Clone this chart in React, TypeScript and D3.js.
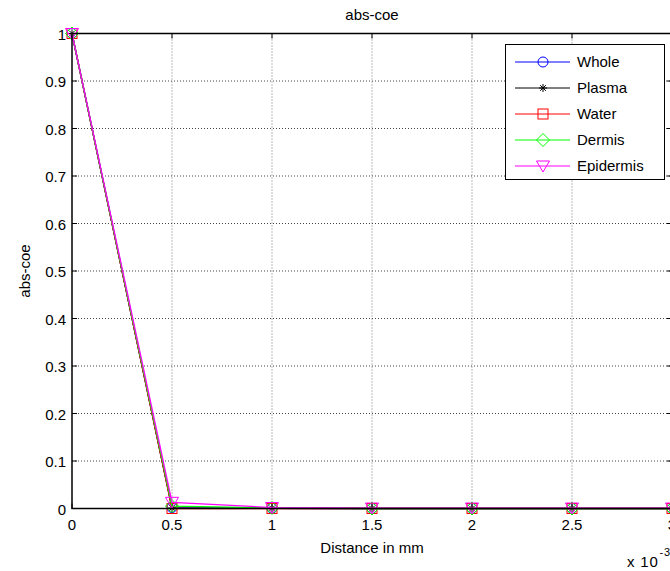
import React from "react";
import * as d3 from "d3";

const xValues = [0, 0.0005, 0.001, 0.0015, 0.002, 0.0025, 0.003];
const seriesNames = ["Whole", "Plasma", "Water", "Dermis", "Epidermis"];
const seriesColors = ["#0000ff", "#000000", "#ff0000", "#00ff00", "#ff00ff"];
const wholeValues = [1, 0.002, 0.0005, 0, 0, 0, 0];
const plasmaValues = [1, 0.001, 0.0003, 0, 0, 0, 0];
const waterValues = [1, 0.0, 0.0, 0, 0, 0, 0];
const dermisValues = [1, 0.005, 0.001, 0, 0, 0, 0];
const epidermisValues = [1, 0.013, 0.002, 0.001, 0.001, 0.001, 0.001];
const xTicks = [0, 0.0005, 0.001, 0.0015, 0.002, 0.0025, 0.003];
const xTickLabels = ["0", "0.5", "1", "1.5", "2", "2.5", "3"];
const yTicks = [0, 0.1, 0.2, 0.3, 0.4, 0.5, 0.6, 0.7, 0.8, 0.9, 1];

const allSeries = [wholeValues, plasmaValues, waterValues, dermisValues, epidermisValues];
const markerTypes = ["circle", "asterisk", "square", "diamond", "triangle"];

const W = 670, H = 571;
const L = 72, R = 672, T = 33.5, B = 508.5;
const FONT = "'Liberation Sans', Arial, sans-serif";

function Marker({ type, x, y, color }: { type: string; x: number; y: number; color: string }) {
  const common = { fill: "none", stroke: color, strokeWidth: 1 };
  if (type === "circle") return <circle cx={x} cy={y} r={5} {...common} />;
  if (type === "square") return <rect x={x - 5} y={y - 5} width={10} height={10} {...common} />;
  if (type === "diamond") return <path d={`M${x},${y - 6.5}L${x + 6.5},${y}L${x},${y + 6.5}L${x - 6.5},${y}Z`} {...common} />;
  if (type === "triangle") return <path d={`M${x - 6.5},${y - 5}L${x + 6.5},${y - 5}L${x},${y + 6}Z`} {...common} />;
  const s = 4;
  return (
    <path
      d={`M${x - s},${y}L${x + s},${y}M${x},${y - s}L${x},${y + s}M${x - s * 0.7},${y - s * 0.7}L${x + s * 0.7},${y + s * 0.7}M${x - s * 0.7},${y + s * 0.7}L${x + s * 0.7},${y - s * 0.7}`}
      {...common}
    />
  );
}

export default function App() {
  const x = d3.scaleLinear().domain([0, 0.003]).range([L, R]);
  const y = d3.scaleLinear().domain([0, 1]).range([B, T]);
  const line = d3.line<number>().x((_, i) => x(xValues[i])).y((d) => y(d));

  const legX = 505.5, legY = 44.5, legW = 159, legH = 135;
  const rowY = [62, 88, 114, 140, 166];

  return (
    <svg width={W} height={H} style={{ position: "absolute", left: 0, top: 0, background: "#fff" }} fontFamily={FONT}>
      <rect x={0} y={0} width={W} height={H} fill="#fff" />
      {/* grid */}
      {xTicks.slice(1).map((t, i) => (
        <line key={"gx" + i} x1={x(t)} x2={x(t)} y1={T} y2={B} stroke="#777" strokeDasharray="1,2" strokeWidth={1} />
      ))}
      {yTicks.slice(1).map((t, i) => (
        <line key={"gy" + i} x1={L} x2={R} y1={y(t)} y2={y(t)} stroke="#444" strokeDasharray="1,2" strokeWidth={1} />
      ))}
      {/* ticks */}
      {xTicks.map((t, i) => (
        <g key={"tx" + i}>
          <line x1={x(t)} x2={x(t)} y1={B} y2={B - 5} stroke="#000" />
          <line x1={x(t)} x2={x(t)} y1={T} y2={T + 5} stroke="#000" />
          <text x={x(t)} y={530} fontSize={15} textAnchor="middle" fill="#000">{xTickLabels[i]}</text>
        </g>
      ))}
      {yTicks.map((t, i) => (
        <g key={"ty" + i}>
          <line x1={L} x2={L + 5} y1={y(t)} y2={y(t)} stroke="#000" />
          <line x1={R - 5} x2={R} y1={y(t)} y2={y(t)} stroke="#000" />
          <text x={66} y={y(t) + 6} fontSize={15} textAnchor="end" fill="#000">{String(t)}</text>
        </g>
      ))}
      {/* series */}
      {allSeries.map((vals, si) => (
        <g key={"s" + si}>
          <path d={line(vals) || ""} fill="none" stroke={seriesColors[si]} strokeWidth={1.3} />
          {vals.map((v, i) => (
            <Marker key={i} type={markerTypes[si]} x={x(xValues[i])} y={y(v)} color={seriesColors[si]} />
          ))}
        </g>
      ))}
      {/* frame */}
      <rect x={L} y={T} width={R - L} height={B - T} fill="none" stroke="#000" strokeWidth={1.5} />
      {/* titles */}
      <text x={372} y={20} fontSize={15} textAnchor="middle" fill="#000">abs-coe</text>
      <text x={372} y={553} fontSize={15} textAnchor="middle" fill="#000">Distance in mm</text>
      <text transform={`translate(30,271) rotate(-90)`} fontSize={15} textAnchor="middle" fill="#000">abs-coe</text>
      <text x={627} y={567} fontSize={15} fill="#000" letterSpacing={0.8}>x 10<tspan dx={1} dy={-11} fontSize={11}>-3</tspan></text>
      {/* legend */}
      <rect x={legX} y={legY} width={legW} height={legH} fill="#fff" stroke="#000" strokeWidth={1} />
      {seriesNames.map((n, i) => (
        <g key={"l" + i}>
          <line x1={515} x2={570} y1={rowY[i]} y2={rowY[i]} stroke={seriesColors[i]} strokeWidth={1} />
          <Marker type={markerTypes[i]} x={543} y={rowY[i]} color={seriesColors[i]} />
          <text x={577} y={rowY[i] + 5} fontSize={15} fill="#000">{n}</text>
        </g>
      ))}
    </svg>
  );
}
